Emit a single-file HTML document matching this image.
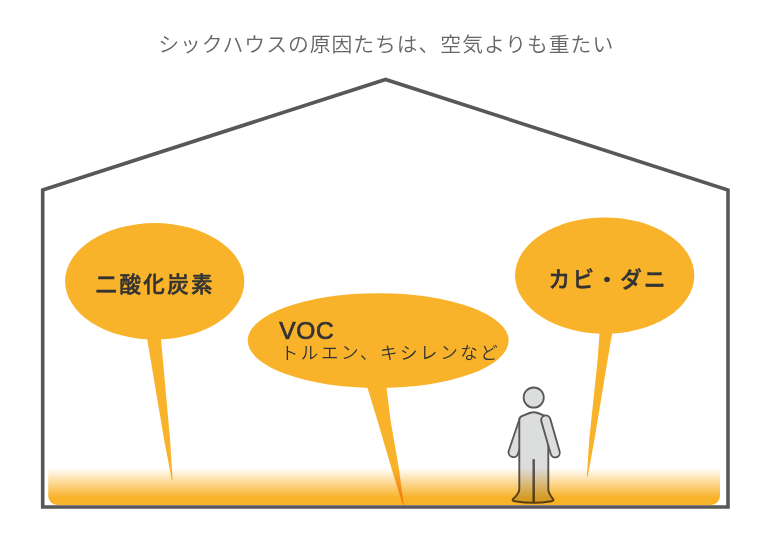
<!DOCTYPE html>
<html lang="ja">
<head>
<meta charset="utf-8">
<title>シックハウスの原因たちは、空気よりも重たい</title>
<style>
html,body{margin:0;padding:0;background:#fff;}
body{width:765px;height:539px;overflow:hidden;position:relative;}
svg{position:absolute;left:0;top:0;display:block;}
text{font-family:"Liberation Sans","Noto Sans CJK JP",sans-serif;}
.title{font-size:20.8px;font-weight:350;fill:#666;letter-spacing:0.98px;}
.lbl{font-size:21.5px;font-weight:500;fill:#333;stroke:#333;stroke-width:0.55px;stroke-linejoin:round;letter-spacing:2.4px;}
.voc{font-size:24.5px;font-weight:400;fill:#333;stroke:#333;stroke-width:0.7px;stroke-linejoin:round;letter-spacing:0.7px;}
.sub{font-size:17.5px;font-weight:350;fill:#333;letter-spacing:2.55px;}
.floor{mix-blend-mode:multiply;}
</style>
</head>
<body>
<svg width="765" height="539" viewBox="0 0 765 539">
  <defs>
    <linearGradient id="fg" gradientUnits="userSpaceOnUse" x1="0" y1="467.8" x2="0" y2="505">
      <stop offset="0" stop-color="#ffffff"/>
      <stop offset="0.8" stop-color="#f9b32a"/>
      <stop offset="1" stop-color="#f9b32a"/>
    </linearGradient>
  </defs>
  <rect width="765" height="539" fill="#fff"/>
  <text class="title" x="158.3" y="52.1">シックハウスの原因たちは、空気よりも重たい</text>

  <!-- house -->
  <polygon points="42.7,190 385.5,79.5 728,190 728,506.95 42.7,506.95" fill="none" stroke="#595757" stroke-width="3.6" stroke-linejoin="miter"/>

  <!-- bubbles -->
  <g fill="#f9b32a">
    <ellipse cx="154.7" cy="281.3" rx="89.6" ry="58.2"/>
    <polygon points="146.8,337 160.8,337 170.1,440 172.6,480.2 171.8,480.2 164.2,440"/>
    <ellipse cx="378.2" cy="340.6" rx="130.5" ry="47.4"/>
    <polygon points="366.6,385 386.2,385 390.5,420 399,469 403.7,505 402.9,505 391.7,469 377.3,420"/>
    <ellipse cx="604.7" cy="275.6" rx="89.6" ry="58.2"/>
    <polygon points="599.6,332 612.4,332 607.6,360 594.4,440 587.7,476.6 586.9,476.6 589.2,440 597.6,360"/>
  </g>
  <text class="lbl" x="95.5" y="291.5">二酸化炭素</text>
  <text class="lbl" x="548.5" y="286.5">カビ・ダニ</text>
  <text class="voc" x="279.2" y="339.3">VOC</text>
  <text class="sub" x="280.8" y="359.2">トルエン、キシレンなど</text>

  <!-- person -->
  <g stroke-linecap="round" stroke-linejoin="round" fill="none">
    <!-- left arm (behind torso) -->
    <line x1="524.1" y1="420.6" x2="513.4" y2="452.3" stroke="#595757" stroke-width="11.6"/>
    <line x1="524.1" y1="420.6" x2="513.4" y2="452.3" stroke="#dcdddd" stroke-width="7.9"/>
    <!-- head -->
    <circle cx="533.7" cy="397.6" r="10.1" fill="#dcdddd" stroke="#595757" stroke-width="1.8"/>
    <!-- torso and legs -->
    <path d="M519.3,420 Q519.3,416.9 522.4,415.8 L529.6,413 Q533.7,411.6 537.8,413 L545,415.8 Q548.3,416.9 548.3,420 L548.3,489 Q548.3,493.5 553.3,499.3 Q554,500.8 551.5,501.2 Q542,502.8 533.7,502.8 Q525,502.8 514.5,501.2 Q512,500.8 512.8,499.3 Q519.3,493.5 519.3,489 Z" fill="#dcdddd" stroke="#595757" stroke-width="1.9"/>
    <line x1="533.7" y1="459.2" x2="533.7" y2="502" stroke="#595757" stroke-width="2.5" stroke-linecap="butt"/>
    <!-- right arm (front) -->
    <line x1="545.8" y1="420.1" x2="555.2" y2="452.8" stroke="#595757" stroke-width="11.1"/>
    <line x1="545.8" y1="420.1" x2="555.2" y2="452.8" stroke="#dcdddd" stroke-width="7.4"/>
  </g>

  <!-- floor -->
  <path class="floor" d="M48.2,467.6 H720 V496 a9,9 0 0 1 -9,9 H57.2 a9,9 0 0 1 -9,-9 Z" fill="url(#fg)"/>
</svg>
</body>
</html>
